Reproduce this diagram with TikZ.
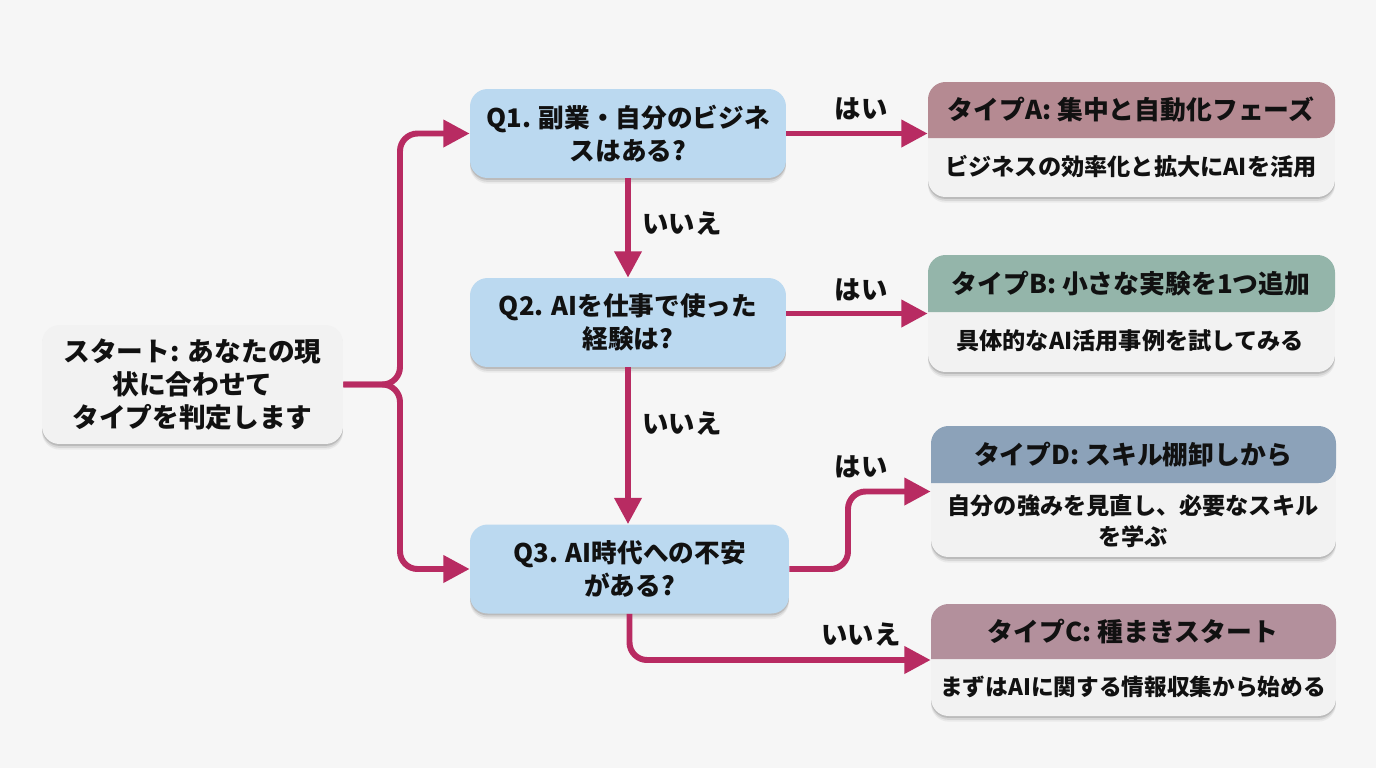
\documentclass[tikz,border=0pt]{standalone}
\usepackage{fontspec}
\setmainfont{Noto Sans CJK JP}
\usetikzlibrary{arrows.meta, shadows}
\definecolor{bg}{HTML}{F6F6F6}
\definecolor{w}{HTML}{F2F2F2}
\definecolor{q}{HTML}{BBD9F0}
\definecolor{l}{HTML}{B82B62}
\definecolor{tA}{HTML}{B58A92}
\definecolor{tB}{HTML}{94B5AA}
\definecolor{tD}{HTML}{8CA2B9}
\definecolor{tC}{HTML}{B3909C}
\definecolor{b}{HTML}{111111}
\tikzset{
    softshadow/.style={
        drop shadow={shadow xshift=0pt,shadow yshift=-3.2pt,opacity=0.05,fill=black},
        drop shadow={shadow xshift=0pt,shadow yshift=-2.2pt,opacity=0.08,fill=black},
        drop shadow={shadow xshift=0pt,shadow yshift=-1.1pt,opacity=0.12,fill=black}
    },
    box/.style={rounded corners=10pt,softshadow,inner sep=0pt,align=center,text=b,font=\fontsize{14.6}{19}\selectfont\bfseries},
    question/.style={box,fill=q,minimum height=1.78cm},
    card/.style={box,fill=w,minimum width=8.1cm},
    head/.style={rounded corners=10pt},
    title/.style={text=b,inner sep=0pt,font=\fontsize{14.7}{19}\selectfont\bfseries},
    desc/.style={text=b,inner sep=0pt,align=center,font=\fontsize{13.2}{17.6}\selectfont\bfseries},
    answer/.style={text=b,inner sep=0pt,font=\fontsize{15}{19}\selectfont\bfseries},
    flow/.style={draw=l,line width=3.4pt,rounded corners=10pt,-{Triangle[length=15pt,width=15pt]}}
}
\begin{document}
\begin{tikzpicture}[x=0.02cm,y=-0.02cm]
    \fill[bg] (0,0) rectangle (1376,768);
    \useasboundingbox (0,0) rectangle (1376,768);
    % start and questions
    \node[box,fill=w,minimum width=6.02cm,minimum height=2.38cm,font=\fontsize{15.2}{19}\selectfont\bfseries] (start) at (192.5,384.5) {スタート: あなたの現\\状に合わせて\hspace*{0.3cm}\\タイプを判定します};
    \node[question,minimum width=6.32cm] (q1) at (628,133.5) {Q1. 副業・自分のビジネ\\スはある?};
    \node[question,minimum width=6.32cm] (q2) at (628,322.5) {Q2. AIを仕事で使った\\経験は?};
    \node[question,minimum width=6.38cm] (q3) at (629.5,569) {Q3. AI時代への不安\\がある?};
    % type cards
    \node[card,minimum width=8.14cm,minimum height=2.30cm] (cardA) at (1131.5,139.5) {};
    \fill[tA,head] (928,138) -- (928,82) -- (1335,82) -- (1335,138) [sharp corners] -- cycle;
    \node[title] (titleA) at (1131,110) {タイプA: 集中と自動化フェーズ};
    \node[desc] (descA) at (1131,167) {ビジネスの効率化と拡大にAIを活用};
    \node[card,minimum width=8.14cm,minimum height=2.34cm] (cardB) at (1131.5,313.5) {};
    \fill[tB,head] (928,312) -- (928,255) -- (1335,255) -- (1335,312) [sharp corners] -- cycle;
    \node[title] (titleB) at (1131,284) {タイプB: 小さな実験を1つ追加};
    \node[desc] (descB) at (1130,341) {具体的なAI活用事例を試してみる};
    \node[card,minimum height=2.62cm] (cardD) at (1133.5,491.5) {};
    \fill[tD,head] (931,483) -- (931,426) -- (1336,426) -- (1336,483) [sharp corners] -- cycle;
    \node[title] (titleD) at (1133,455) {タイプD: スキル棚卸しから};
    \node[desc] (descD) at (1133,521) {自分の強みを見直し、必要なスキル\\を学ぶ};
    \node[card,minimum height=2.24cm] (cardC) at (1133.5,660) {};
    \fill[tC,head] (931,659) -- (931,604) -- (1336,604) -- (1336,659) [sharp corners] -- cycle;
    \node[title] (titleC) at (1133,632) {タイプC: 種まきスタート};
    \node[desc,font=\fontsize{12.9}{17.6}\selectfont\bfseries] (descC) at (1133,687) {まずはAIに関する情報収集から始める};
    % connectors
    \draw[flow] (start.east) -- (400,384.5) -- (400,133.5) -- (q1.west);
    \draw[flow] (start.east) -- (400,384.5) -- (400,569) -- (q3.west);
    \draw[flow] (q1.south) -- (q2.north);
    \draw[flow] (q2.south) -- (q2.south |- q3.north);
    \draw[flow] (q1.east) -- (q1.east -| cardA.west);
    \draw[flow] (q2.east |- cardB.west) -- (cardB.west);
    \draw[flow] (q3.east) -- (848,569) -- (848,491.5) -- (cardD.west);
    \draw[flow] (q3.south) |- (cardC.west);
    % answers
    \node[answer] (yes1) at (861,109) {はい};
    \node[answer] (no1) at (682,224) {いいえ};
    \node[answer] (yes2) at (861,290) {はい};
    \node[answer] (no2) at (682,424) {いいえ};
    \node[answer] (yes3) at (861,467) {はい};
    \node[answer] (no3) at (861,635) {いいえ};
\end{tikzpicture}
\end{document}
